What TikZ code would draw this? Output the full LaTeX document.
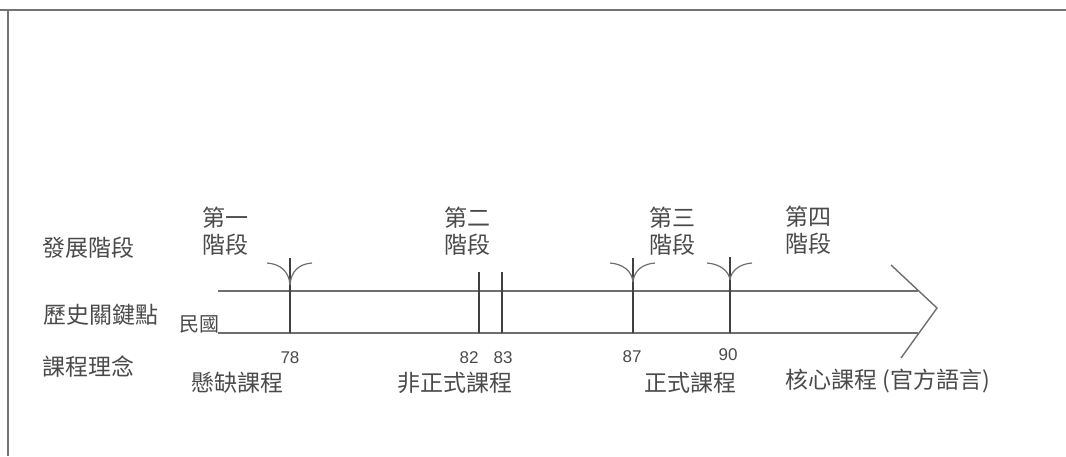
\documentclass[tikz,border=0pt]{standalone}
\usepackage{fontspec}
\newfontfamily\cjk{Noto Sans CJK TC}
\newfontfamily\numfont{Liberation Sans}
\definecolor{ink}{HTML}{4A4A4A}
\definecolor{linec}{HTML}{6E6E6E}
\begin{document}
\begin{tikzpicture}[x=0.5pt,y=-0.5pt,
  lbl/.style={font=\cjk\fontsize{11.5pt}{13pt}\selectfont, text=ink, inner sep=0pt, anchor=center},
  stage/.style={font=\cjk\fontsize{11.5pt}{13.5pt}\selectfont, text=ink, inner sep=0pt, align=center, anchor=center},
  num/.style={font=\numfont\fontsize{8.5pt}{9pt}\selectfont, text=ink, inner sep=0pt, anchor=center},
  ln/.style={draw=linec, line width=0.7pt},
  tk/.style={draw=black!75, line width=0.7pt},
  arm/.style={draw=linec, line width=0.6pt}]
\useasboundingbox (0,0) rectangle (1066,456);
% frame
\draw[draw=black!55, line width=1pt] (0,10) -- (1066,10);
\draw[draw=black!55, line width=1pt] (8,10) -- (8,456);

% row labels
\node[lbl] (r1) at (88,248) {發展階段};
\node[lbl] (r2) at (101,315) {歷史關鍵點};
\node[lbl] (r3) at (88,367) {課程理念};

% stage labels
\node[stage] (s1) at (225,231) {第一\\階段};
\node[stage] (s2) at (467,231) {第二\\階段};
\node[stage] (s3) at (672,231) {第三\\階段};
\node[stage] (s4) at (808,230) {第四\\階段};

% timeline
\coordinate (u0) at (218,291);
\coordinate (u1) at (918,291);
\coordinate (l0) at (218,333);
\coordinate (l1) at (918,333);
\coordinate (h0) at (891,265);
\coordinate (h1) at (937,308);
\coordinate (h2) at (901,358);
\draw[ln] (u0) -- (u1);
\draw[ln] (l0) -- (l1);
\draw[ln] (h0) -- (h1) -- (h2);

\node[font=\cjk\fontsize{10pt}{11pt}\selectfont, text=ink, inner sep=0pt] (mg) at (199,324) {民國};

% ticks
\foreach \n/\x/\t in {a/290/258, b/479/272, c/502/272, d/633/258, e/730/257}{
  \coordinate (\n top) at (\x,\t);
  \coordinate (\n bot) at (\x,333);
  \draw[tk] (\n top) -- (\n bot);
}
% Y arms
\foreach \n/\x/\j in {a/290/285, d/633/282, e/730/280}{
  \coordinate (\n L) at (\x-23,263);
  \coordinate (\n R) at (\x+22,263);
  \coordinate (\n J) at (\x,\j);
  \draw[arm] (\n L) .. controls (\x-10,264) and (\x-1,271) .. (\n J);
  \draw[arm] (\n R) .. controls (\x+9,264) and (\x+1,271) .. (\n J);
}

% numbers
\node[num] (n78) at (290,358) {78};
\node[num] (n82) at (469,358) {82};
\node[num] (n83) at (503,358) {83};
\node[num] (n87) at (632,357) {87};
\node[num] (n90) at (728,355) {90};

% curriculum labels
\node[lbl] (c1) at (237,383) {懸缺課程};
\node[lbl] (c2) at (455,383) {非正式課程};
\node[lbl] (c3) at (690,383) {正式課程};
\node[lbl] (c4) at (888,381) {核心課程 (官方語言)};
\end{tikzpicture}
\end{document}
